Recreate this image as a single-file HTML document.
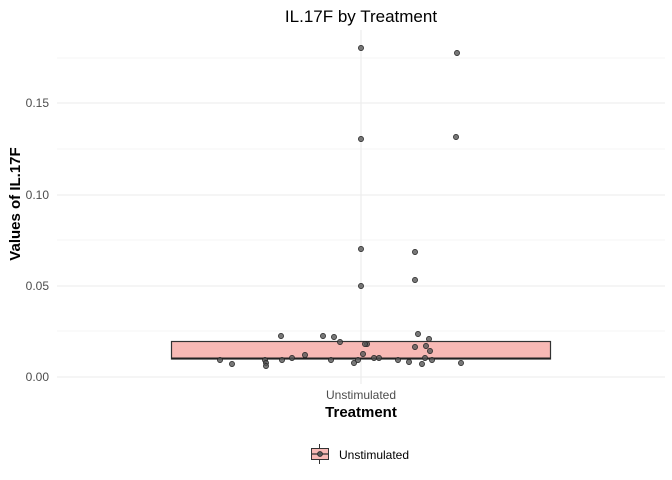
<!DOCTYPE html>
<html><head><style>body{margin:0;background:#fff}svg{display:block}</style></head><body>
<svg width="672" height="480" xmlns="http://www.w3.org/2000/svg" font-family="Liberation Sans, sans-serif">
<rect width="672" height="480" fill="#fff"/>
<g stroke="#ebebeb" stroke-width="0.6">
<line x1="57" x2="665" y1="331" y2="331"/><line x1="57" x2="665" y1="240" y2="240"/><line x1="57" x2="665" y1="149" y2="149"/><line x1="57" x2="665" y1="58" y2="58"/>
</g>
<g stroke="#ebebeb" stroke-width="1.1">
<line x1="57" x2="665" y1="377" y2="377"/><line x1="57" x2="665" y1="286" y2="286"/><line x1="57" x2="665" y1="195" y2="195"/><line x1="57" x2="665" y1="103" y2="103"/>
<line x1="361" x2="361" y1="30" y2="384"/>
</g>
<g font-size="12" fill="#4d4d4d" text-anchor="end">
<text x="49" y="381">0.00</text><text x="49" y="290">0.05</text><text x="49" y="199">0.10</text><text x="49" y="107">0.15</text>
</g>
<rect x="171.5" y="341.5" width="379" height="17.5" fill="#f8b9b5" stroke="#333" stroke-width="1.2"/>
<line x1="171.5" x2="550.5" y1="358.5" y2="358.5" stroke="#222" stroke-width="2"/>
<g fill="#555" fill-opacity="0.8" stroke="#222" stroke-width="0.7">
<circle cx="361" cy="48" r="2.6"/><circle cx="457" cy="53" r="2.6"/><circle cx="361" cy="139" r="2.6"/><circle cx="456" cy="137" r="2.6"/><circle cx="361" cy="249" r="2.6"/><circle cx="415" cy="252" r="2.6"/><circle cx="415" cy="280" r="2.6"/><circle cx="361" cy="286" r="2.6"/>
<circle cx="281" cy="336" r="2.6"/><circle cx="323" cy="336" r="2.6"/><circle cx="334" cy="337" r="2.6"/><circle cx="340" cy="342" r="2.6"/><circle cx="418" cy="334" r="2.6"/><circle cx="429" cy="339" r="2.6"/><circle cx="415" cy="347" r="2.6"/><circle cx="426" cy="346" r="2.6"/><circle cx="430" cy="351" r="2.6"/><circle cx="367" cy="344" r="2.6"/><circle cx="365" cy="344" r="2.6"/><circle cx="305" cy="355" r="2.6"/><circle cx="292" cy="358" r="2.6"/><circle cx="265" cy="360" r="2.6"/><circle cx="266" cy="363" r="2.6"/><circle cx="220" cy="360" r="2.6"/><circle cx="266" cy="366" r="2.6"/><circle cx="232" cy="364" r="2.6"/><circle cx="282" cy="360" r="2.6"/><circle cx="331" cy="360" r="2.6"/><circle cx="354" cy="363" r="2.6"/><circle cx="374" cy="358" r="2.6"/><circle cx="379" cy="358" r="2.6"/><circle cx="398" cy="360" r="2.6"/><circle cx="422" cy="364" r="2.6"/><circle cx="409" cy="362" r="2.6"/><circle cx="432" cy="360" r="2.6"/><circle cx="461" cy="363" r="2.6"/><circle cx="358" cy="360" r="2.6"/><circle cx="363" cy="354" r="2.6"/><circle cx="425" cy="358" r="2.6"/>
</g>
<text x="361" y="22" font-size="17" text-anchor="middle" fill="#000">IL.17F by Treatment</text>
<text x="361" y="399" font-size="12" text-anchor="middle" fill="#4d4d4d">Unstimulated</text>
<text x="361" y="417" font-size="15" font-weight="bold" text-anchor="middle" fill="#000">Treatment</text>
<text transform="translate(20,204) rotate(-90)" font-size="15" font-weight="bold" text-anchor="middle" fill="#000">Values of IL.17F</text>
<line x1="319.5" x2="319.5" y1="444" y2="464" stroke="#333" stroke-width="1"/>
<rect x="311.5" y="448.5" width="17" height="11" fill="#f8b9b5" stroke="#333" stroke-width="1"/>
<line x1="311.5" x2="328.5" y1="454" y2="454" stroke="#333" stroke-width="1.2"/>
<circle cx="320" cy="454" r="2.5" fill="#555" stroke="#222" stroke-width="0.7"/>
<text x="339" y="459" font-size="12" fill="#000">Unstimulated</text>
</svg>
</body></html>
